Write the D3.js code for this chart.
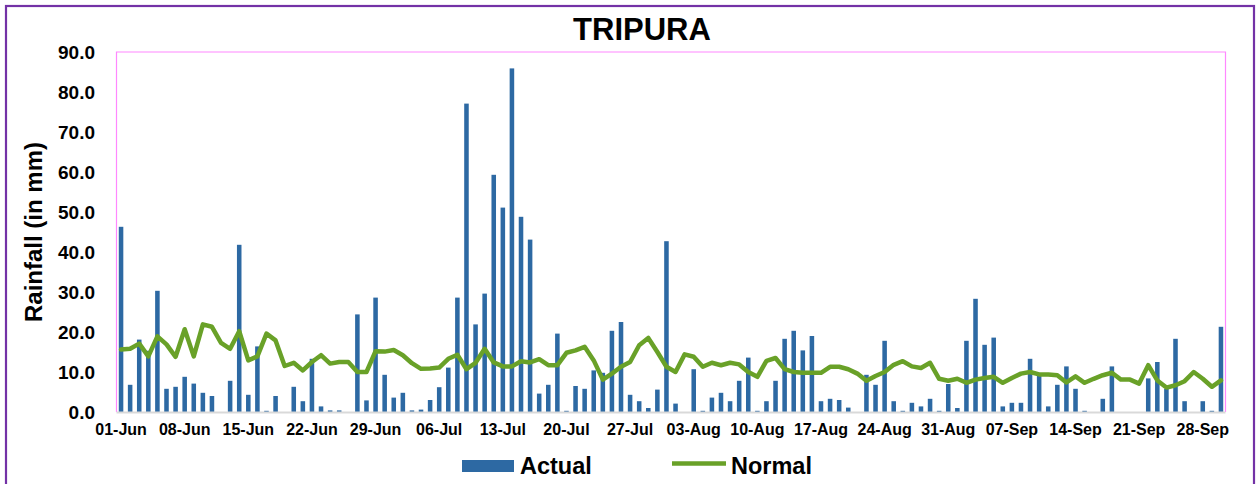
<!DOCTYPE html>
<html>
<head>
<meta charset="utf-8">
<script src="https://cdn.jsdelivr.net/npm/d3@7"></script>
<style>
  html, body { margin: 0; padding: 0; background: #fff; }
  svg { display: block; font-family: "Liberation Sans", Arial, sans-serif; }
</style>
</head>
<body>
<svg id="chart" width="1258" height="484"></svg>
<script>
// ---- data ----
const title = "TRIPURA";
const yAxisTitle = "Rainfall (in mm)";
const seriesNames = ["Actual", "Normal"];
const days = d3.timeDay.range(new Date(2020, 5, 1), new Date(2020, 9, 1)).map(d3.timeFormat("%d-%b"));
const tickLabels = ["01-Jun","08-Jun","15-Jun","22-Jun","29-Jun","06-Jul","13-Jul","20-Jul","27-Jul",
  "03-Aug","10-Aug","17-Aug","24-Aug","31-Aug","07-Sep","14-Sep","21-Sep","28-Sep"];
const yTicks = [0, 10, 20, 30, 40, 50, 60, 70, 80, 90];
const actual = [
  46.3, 6.8, 18.1, 15.3, 30.3, 5.8, 6.3, 8.8, 7.1, 4.8,
  4.0, 0, 7.8, 41.8, 4.3, 16.4, 0.3, 4.0, 0, 6.3,
  2.7, 13.3, 1.4, 0.4, 0.4, 0, 24.4, 2.9, 28.6, 9.3,
  3.6, 4.8, 0.4, 0.6, 3.0, 6.2, 11.1, 28.6, 77.1, 21.9,
  29.6, 59.3, 51.1, 85.9, 48.8, 43.1, 4.6, 6.8, 19.6, 0.3,
  6.5, 5.8, 10.4, 9.8, 20.3, 22.5, 4.3, 2.7, 1.0, 5.6,
  42.7, 2.1, 0, 10.7, 0.3, 3.6, 4.8, 2.7, 7.8, 13.6,
  0.3, 2.7, 7.8, 18.3, 20.3, 15.4, 19.0, 2.7, 3.3, 3.0,
  1.1, 0, 9.3, 6.8, 17.8, 2.7, 0.3, 2.3, 1.4, 3.3,
  0.3, 7.0, 1.0, 17.8, 28.3, 16.8, 18.6, 1.4, 2.3, 2.3,
  13.3, 9.2, 1.4, 6.8, 11.4, 5.8, 0.3, 0, 3.3, 11.4,
  0, 0, 0, 8.4, 12.5, 5.8, 18.3, 2.7, 0, 2.7,
  0.3, 21.3
];
const normal = [
  15.6, 15.8, 17.1, 13.9, 18.9, 16.9, 13.8, 20.7, 13.9, 21.9,
  21.3, 17.3, 15.8, 20.2, 12.9, 13.9, 19.6, 17.9, 11.5, 12.3,
  10.4, 12.5, 14.2, 12.1, 12.5, 12.5, 10.0, 10.0, 15.2, 15.1,
  15.5, 14.2, 12.2, 10.8, 10.9, 11.1, 13.3, 14.3, 10.7, 12.3,
  15.8, 12.4, 11.4, 11.4, 12.7, 12.4, 13.2, 11.7, 11.7, 14.8,
  15.4, 16.3, 12.9, 8.1, 9.6, 11.3, 12.5, 16.7, 18.5, 15.0,
  11.3, 10.0, 14.4, 13.8, 11.3, 12.3, 11.7, 12.3, 11.9, 10.0,
  8.8, 12.8, 13.5, 10.7, 10.0, 9.8, 9.8, 9.8, 11.3, 11.3,
  10.7, 9.6, 7.8, 9.0, 10.0, 11.8, 12.7, 11.4, 11.0, 12.3,
  8.3, 7.8, 8.3, 7.3, 8.1, 8.5, 8.8, 7.3, 8.5, 9.6,
  10.0, 9.4, 9.4, 9.2, 7.4, 8.9, 7.3, 8.3, 9.2, 9.8,
  8.1, 8.1, 7.1, 11.7, 7.9, 6.1, 6.7, 7.7, 10.0, 8.3,
  6.3, 7.9
];

// ---- styles ----
const barColor = "#2D69A3";
const lineColor = "#69A128";
const frameColor = "#7332A6";
const plotBorder = "#FF88FF";

const svg = d3.select("#chart");
const plot = { left: 116.5, right: 1225.5, top: 52, bottom: 412 };

// outer frame
svg.append("rect")
  .attr("x", 6).attr("y", 6)
  .attr("width", 1248).attr("height", 500)
  .attr("fill", "#fff").attr("stroke", frameColor).attr("stroke-width", 2.2);

const x = d3.scaleBand().domain(days).range([plot.left, plot.right]).paddingInner(0.5).paddingOuter(0.25);
const y = d3.scaleLinear().domain([0, 90]).range([plot.bottom, plot.top]);

// plot border (pink on top/left/right)
svg.append("path")
  .attr("d", `M${plot.left},${plot.bottom} V${plot.top} H${plot.right} V${plot.bottom}`)
  .attr("fill", "none").attr("stroke", plotBorder).attr("stroke-width", 1.2);

// bars
svg.append("g").selectAll("rect").data(actual).join("rect")
  .attr("x", (d, i) => x(days[i]))
  .attr("width", x.bandwidth())
  .attr("y", d => y(d))
  .attr("height", d => y(0) - y(d))
  .attr("fill", barColor);

// x axis line
svg.append("line")
  .attr("x1", plot.left).attr("x2", plot.right)
  .attr("y1", plot.bottom + 0.5).attr("y2", plot.bottom + 0.5)
  .attr("stroke", "#D9D9D9").attr("stroke-width", 1.8);

// normal line
const line = d3.line()
  .x((d, i) => x(days[i]) + x.bandwidth() / 2)
  .y(d => y(d));
svg.append("path")
  .datum(normal)
  .attr("d", line)
  .attr("fill", "none")
  .attr("stroke", lineColor)
  .attr("stroke-width", 4.5)
  .attr("stroke-linejoin", "round")
  .attr("stroke-linecap", "round");

// y axis
const yAxis = d3.axisLeft(y).tickValues(yTicks).tickFormat(d3.format(".1f")).tickSize(0).tickPadding(0);
const gy = svg.append("g").attr("transform", `translate(95,0)`).call(yAxis);
gy.select(".domain").remove();
gy.selectAll("text")
  .attr("font-size", 19).attr("fill", "#000").attr("font-weight", "bold")
  .attr("font-family", "'Liberation Sans', Arial, sans-serif");

// x axis labels
const xAxis = d3.axisBottom(x).tickValues(tickLabels).tickSize(0).tickPadding(0);
const gx = svg.append("g").attr("transform", `translate(0,424)`).call(xAxis);
gx.select(".domain").remove();
gx.selectAll("text")
  .attr("font-size", 16).attr("font-weight", "bold").attr("fill", "#000")
  .attr("font-family", "'Liberation Sans', Arial, sans-serif");

// title
svg.append("text")
  .attr("x", 642).attr("y", 39.5)
  .attr("text-anchor", "middle")
  .attr("font-size", 31).attr("font-weight", "bold")
  .text(title);

// y axis title
svg.append("text")
  .attr("transform", "translate(42,232) rotate(-90)")
  .attr("text-anchor", "middle")
  .attr("font-size", 24).attr("font-weight", "bold")
  .text(yAxisTitle);

// legend
svg.append("rect")
  .attr("x", 462).attr("y", 460).attr("width", 52).attr("height", 12)
  .attr("fill", barColor);
svg.append("text")
  .attr("x", 520).attr("y", 473.5)
  .attr("font-size", 23.5).attr("font-weight", "bold")
  .text(seriesNames[0]);
svg.append("line")
  .attr("x1", 672).attr("x2", 726).attr("y1", 463.5).attr("y2", 463.5)
  .attr("stroke", lineColor).attr("stroke-width", 4.5);
svg.append("text")
  .attr("x", 731).attr("y", 473.5)
  .attr("font-size", 23.5).attr("font-weight", "bold")
  .text(seriesNames[1]);
</script>
</body>
</html>
